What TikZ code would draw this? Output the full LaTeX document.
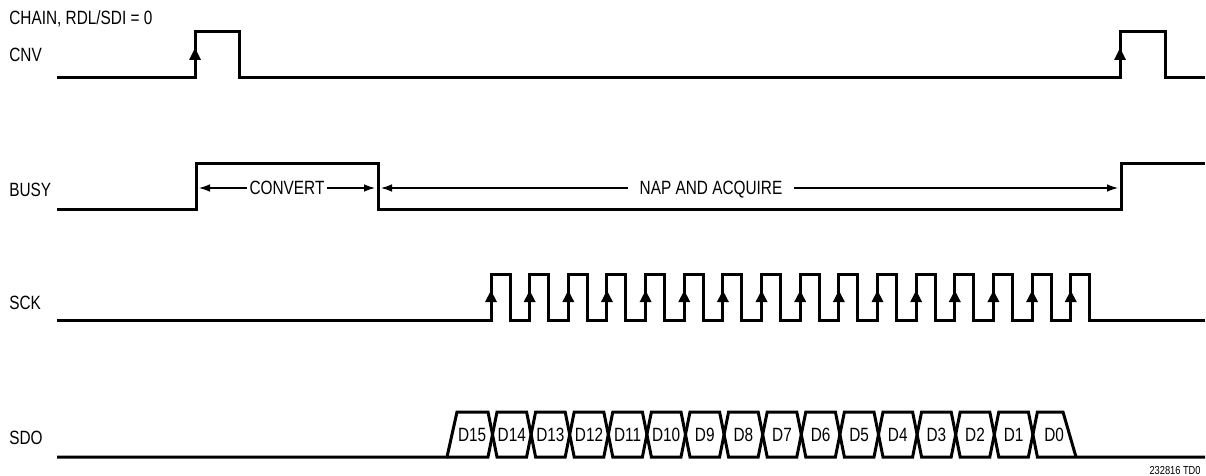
\documentclass[tikz,border=0pt]{standalone}
\usepackage{fontspec}
\setmainfont{Liberation Sans}[FakeStretch=0.8]
\usetikzlibrary{arrows.meta}
\begin{document}
\begin{tikzpicture}[x=0.5pt,y=-0.5pt,
  sig/.style={line width=1.5pt,line join=miter,color=black},
  thin/.style={line width=0.55pt,color=black},
  lbl/.style={anchor=base west,inner sep=0pt,font=\fontsize{9.6}{11}\selectfont},
  dlbl/.style={anchor=base,inner sep=0pt,font=\fontsize{9.6}{11}\selectfont},
  span/.style={anchor=base,fill=white,inner ysep=1pt,font=\fontsize{9.6}{11}\selectfont},
  tip/.style={-{Latex[length=5.5pt,width=3.8pt]}},
  edgemark/.style={fill=black}]
\useasboundingbox (0,0) rectangle (1206,476);
% labels
\node[lbl] (title) at (9,25) {CHAIN, RDL/SDI = 0};
\node[lbl] (cnv) at (9,62) {CNV};
\node[lbl] (busy) at (9,197) {BUSY};
\node[lbl] (sck) at (9,309) {SCK};
\node[lbl] (sdo) at (9,444) {SDO};
\node[anchor=base east,inner sep=0pt,font=\fontsize{5.8}{6}\selectfont] (fig) at (1201,474) {232816 TD0};
% CNV
\draw[sig] (57,78) -- (195,78) -- (195,32) -- (239,32) -- (239,78) -- (1120,78) -- (1120,32) -- (1165,32) -- (1165,78) -- (1205,78);
\foreach \xx in {195,1120}
  \fill[edgemark] (\xx-6,60) -- (\xx+6,60) -- (\xx,48) -- cycle;
% BUSY
\draw[sig] (57,210) -- (196,210) -- (196,164) -- (378,164) -- (378,210) -- (1121,210) -- (1121,164) -- (1205,164);
\coordinate (cl) at (199,188);
\coordinate (cr) at (375,188);
\coordinate (nl) at (381,188);
\coordinate (nr) at (1118,188);
\draw[thin,tip] (287,188) -- (cl);
\draw[thin,tip] (287,188) -- (cr);
\node[span,inner xsep=1.5pt] (conv) at (287,195) {CONVERT};
\draw[thin,tip] (711,188) -- (nl);
\draw[thin,tip] (711,188) -- (nr);
\node[span,inner xsep=6pt] (nap) at (711,195) {NAP AND ACQUIRE};
% SCK
\draw[sig] (57,320) -- (491,320)
  \foreach \k in {0,...,15} { -- ({491+38.65*\k},274) -- ({510+38.65*\k},274) -- ({510+38.65*\k},320) -- ({491+38.65*(\k+1)},320) }
  -- (1205,320);
\foreach \k in {0,...,15}
  \fill[edgemark] ({491+38.65*\k-6},302) -- ({491+38.65*\k+6},302) -- ({491+38.65*\k},290.5) -- cycle;
% SDO
\draw[sig] (57,457) -- (447,457) -- (457,412)
  \foreach \k in {0,...,14} { -- ({492.5+38.6*\k-4.5},{ifthenelse(mod(\k,2)==0,412,457)}) -- ({492.5+38.6*\k+4.5},{ifthenelse(mod(\k,2)==0,457,412)}) }
  -- (1205,457);
\draw[sig] (447,457)
  \foreach \k in {0,...,14} { -- ({492.5+38.6*\k-4.5},{ifthenelse(mod(\k,2)==0,457,412)}) -- ({492.5+38.6*\k+4.5},{ifthenelse(mod(\k,2)==0,412,457)}) }
  -- (1063,412) -- (1076,457);
\foreach \j in {0,...,15} {
  \pgfmathtruncatemacro{\bit}{15-\j}
  \node[dlbl] (d\bit) at ({492.5+38.6*\j-19.3+ifthenelse(\j==0,-1,0)+ifthenelse(\j==15,2,0)},441) {D\bit};
}
\end{tikzpicture}
\end{document}
